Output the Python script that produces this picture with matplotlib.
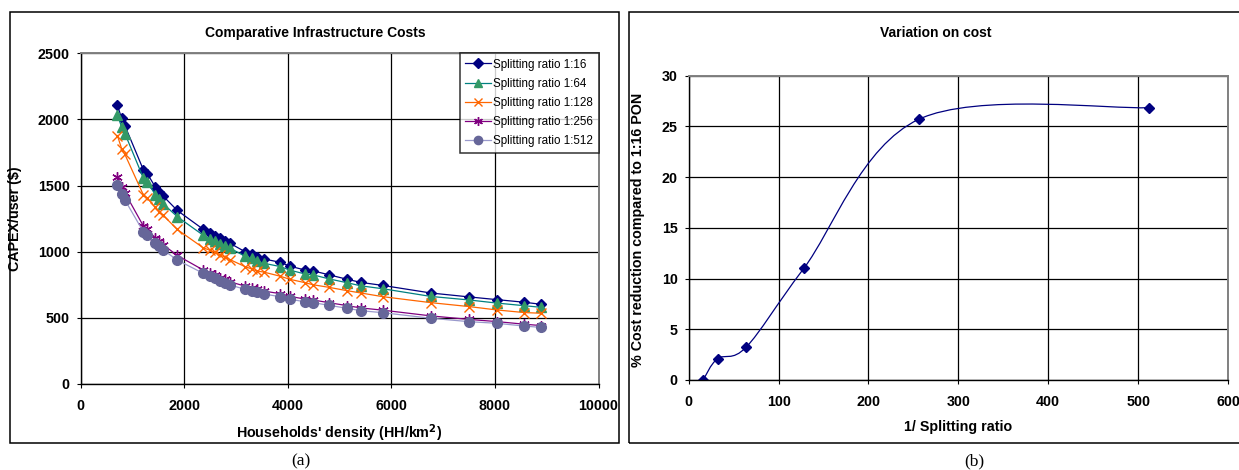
import matplotlib
matplotlib.use('Agg')
import matplotlib.pyplot as plt
from matplotlib.path import Path
from matplotlib.patches import PathPatch, Rectangle

plt.rcParams['font.family'] = ['Liberation Sans', 'DejaVu Sans']

# households' density (HH/km2)
density = [710, 790, 855, 1210, 1290, 1440, 1520, 1595, 1865, 2365, 2500, 2600, 2700, 2790,
           2885, 3175, 3300, 3400, 3545, 3850, 4045, 4330, 4490, 4790, 5150, 5410, 5835,
           6760, 7505, 8030, 8565, 8880]
capex_16 = [2107, 2010, 1952, 1620, 1588, 1490, 1455, 1420, 1312, 1170, 1140, 1120, 1100, 1082,
            1063, 1000, 983, 963, 945, 920, 890, 862, 855, 826, 791, 768, 745, 688, 658, 638, 618, 603]
capex_64 = [2035, 1943, 1893, 1557, 1530, 1430, 1395, 1362, 1265, 1125, 1098, 1080, 1062, 1045,
            1027, 965, 950, 930, 912, 888, 860, 832, 825, 795, 765, 742, 720, 662, 635, 612, 592, 580]
capex_128 = [1878, 1780, 1735, 1430, 1405, 1335, 1300, 1275, 1168, 1030, 1010, 995, 975, 958,
             940, 887, 870, 855, 845, 815, 791, 766, 750, 731, 705, 688, 660, 615, 585, 560, 540, 535]
capex_256 = [1562, 1490, 1445, 1195, 1168, 1105, 1080, 1052, 972, 862, 840, 822, 805, 790,
             772, 740, 728, 715, 702, 683, 662, 642, 635, 615, 592, 575, 558, 515, 488, 472, 452, 442]
capex_512 = [1504, 1440, 1391, 1151, 1126, 1064, 1040, 1013, 937, 837, 816, 799, 781, 766,
             748, 716, 705, 692, 680, 660, 640, 622, 615, 595, 572, 554, 539, 497, 471, 459, 438, 428]

labels = ['Splitting ratio 1:16', 'Splitting ratio 1:64', 'Splitting ratio 1:128',
          'Splitting ratio 1:256', 'Splitting ratio 1:512']

# right chart
ratio = [16, 32, 64, 128, 256, 512]
reduction = [0, 2.1, 3.25, 11.0, 25.7, 26.85]


def smooth_path(xs, ys):
    # excel-like smoothed line (cubic bezier through the points)
    pts = list(zip(xs, ys))
    n = len(pts)
    verts = [pts[0]]
    codes = [Path.MOVETO]
    for i in range(n - 1):
        p0 = pts[max(i - 1, 0)]
        p1 = pts[i]
        p2 = pts[i + 1]
        p3 = pts[min(i + 2, n - 1)]
        c1 = (p1[0] + (p2[0] - p0[0]) / 6, p1[1] + (p2[1] - p0[1]) / 6)
        c2 = (p2[0] - (p3[0] - p1[0]) / 6, p2[1] - (p3[1] - p1[1]) / 6)
        verts += [c1, c2, p2]
        codes += [Path.CURVE4] * 3
    return Path(verts, codes)


def style_axes(ax):
    ax.grid(True, color='black', lw=0.9)
    ax.set_axisbelow(True)
    for s in ['top', 'right']:
        ax.spines[s].set_color('#808080')
        ax.spines[s].set_linewidth(1.4)
    for s in ['left', 'bottom']:
        ax.spines[s].set_linewidth(1.0)
    ax.tick_params(direction='out', length=3, width=0.8, labelsize=10.3)
    ax.tick_params(axis='x', pad=8)
    ax.tick_params(axis='y', pad=5)
    for t in ax.get_xticklabels() + ax.get_yticklabels():
        t.set_fontweight('bold')


fig = plt.figure(figsize=(12.39, 4.70), dpi=100)

# frames around both charts
fig.patches.append(Rectangle((0.0077, 0.0574), 0.4919, 0.9177, transform=fig.transFigure,
                             fill=False, ec='black', lw=1.1))
fig.patches.append(Rectangle((0.508, 0.0574), 0.6, 0.9177, transform=fig.transFigure,
                             fill=False, ec='black', lw=1.1))

ax1 = fig.add_axes([0.0651, 0.183, 0.418, 0.7036])
ax1.plot(density, capex_16, color='#000080', lw=0.9, marker='D', ms=5.5, mfc='#000080', mec='#000080', label=labels[0])
ax1.plot(density, capex_64, color='#008080', lw=0.9, marker='^', ms=7.5, mfc='#339966', mec='#339966', label=labels[1])
ax1.plot(density, capex_128, color='#FF6600', lw=0.9, marker='x', ms=7.5, mew=1.0, label=labels[2])
ax1.plot(density, capex_256, color='#800080', lw=0.9, marker=(6, 2, 0), ms=7.5, mew=1.0, label=labels[3])
ax1.plot(density, capex_512, color='#9999CC', lw=0.9, marker='o', ms=7, mfc='#666699', mec='#666699', label=labels[4])
ax1.set_xlim(0, 10000)
ax1.set_ylim(0, 2500)
ax1.set_xticks(range(0, 10001, 2000))
ax1.set_yticks(range(0, 2501, 500))
style_axes(ax1)
ax1.set_xlabel("Households' density (HH/km$^\\mathbf{2}$)", fontsize=10.3, fontweight='bold')
ax1.set_ylabel('CAPEX/user ($)', fontsize=10.3, fontweight='bold')
ax1.xaxis.set_label_coords(0.499, -0.115)
ax1.yaxis.set_label_coords(-0.113, 0.5)
leg = ax1.legend(loc='upper right', bbox_to_anchor=(1.0, 1.0), borderaxespad=0, fontsize=8.4,
                 frameon=True, fancybox=False, edgecolor='black', handlelength=2.2,
                 labelspacing=0.62, borderpad=0.45, handletextpad=0.25, markerscale=0.85)
leg.get_frame().set_linewidth(1.1)
fig.text(0.2546, 0.9298, 'Comparative Infrastructure Costs', ha='center', va='center',
         fontsize=10, fontweight='bold')

ax2 = fig.add_axes([0.5559, 0.1915, 0.4352, 0.6475])
ax2.add_patch(PathPatch(smooth_path(ratio, reduction), fill=False, ec='#000080', lw=0.9))
ax2.plot(ratio, reduction, ls='none', marker='D', ms=5.5, mfc='#000080', mec='#000080')
ax2.set_xlim(0, 600)
ax2.set_ylim(0, 30)
ax2.set_xticks(range(0, 601, 100))
ax2.set_yticks(range(0, 31, 5))
style_axes(ax2)
ax2.set_xlabel('1/ Splitting ratio', fontsize=10.3, fontweight='bold')
ax2.set_ylabel('% Cost reduction compared to 1:16 PON', fontsize=10.3, fontweight='bold')
ax2.xaxis.set_label_coords(0.499, -0.13)
ax2.yaxis.set_label_coords(-0.082, 0.493)
fig.text(0.7555, 0.9298, 'Variation on cost', ha='center', va='center',
         fontsize=10, fontweight='bold')

fig.text(0.243, 0.018, '(a)', ha='center', va='center', fontsize=12.5, family='Liberation Serif')
fig.text(0.786, 0.018, '(b)', ha='center', va='center', fontsize=12.5, family='Liberation Serif')

fig.savefig('out.png', dpi=100)
